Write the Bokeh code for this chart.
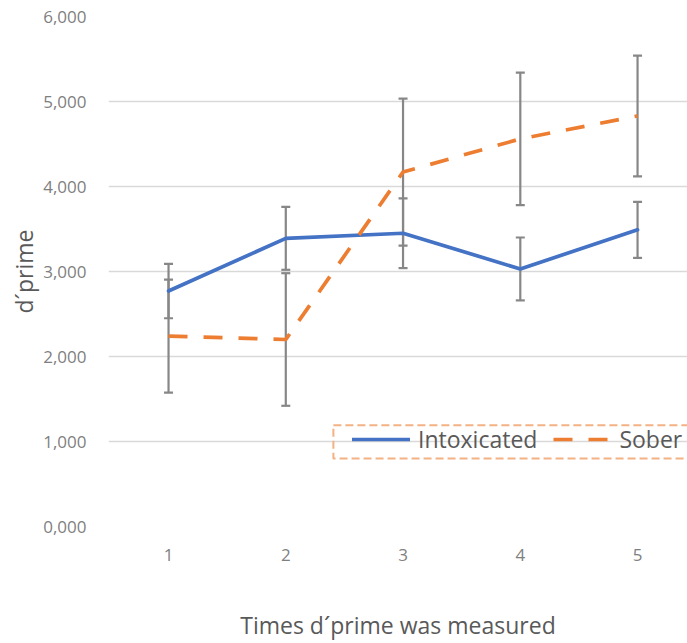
from bokeh.plotting import figure
from bokeh.models import (ColumnDataSource, Whisker, TeeHead, Legend, LegendItem,
                          FixedTicker, CustomJSTickFormatter, Range1d, BoxAnnotation)
from bokeh.embed import file_html
from bokeh.resources import INLINE

# d' measurements per session (mean and error half-width)
times = [1, 2, 3, 4, 5]
intoxicated = [2.77, 3.39, 3.45, 3.03, 3.49]
intoxicated_err = [0.32, 0.37, 0.41, 0.37, 0.33]
sober = [2.24, 2.20, 4.17, 4.56, 4.83]
sober_err = [0.665, 0.78, 0.865, 0.78, 0.71]
y_ticks = [0, 1, 2, 3, 4, 5, 6]

FONT = "Open Sans"
BLUE = "#4472C4"
ORANGE = "#ED7D31"
ERR = "#878787"

src_i = ColumnDataSource(dict(
    x=times, y=intoxicated,
    lower=[m - e for m, e in zip(intoxicated, intoxicated_err)],
    upper=[m + e for m, e in zip(intoxicated, intoxicated_err)],
))
src_s = ColumnDataSource(dict(
    x=times, y=sober,
    lower=[m - e for m, e in zip(sober, sober_err)],
    upper=[m + e for m, e in zip(sober, sober_err)],
))

p = figure(width=687, height=643, output_backend="svg", toolbar_location=None,
           x_range=Range1d(0.488, 5.426), y_range=Range1d(0, 6),
           min_border_left=108, min_border_right=0, min_border_top=16,
           min_border_bottom=117)
p.outline_line_color = None
p.background_fill_color = "white"
p.border_fill_color = "white"

p.xgrid.grid_line_color = None
p.ygrid.grid_line_color = "#d9d9d9"
p.ygrid.grid_line_width = 1.5
p.ygrid.ticker = FixedTicker(ticks=y_ticks)

for ax in (p.xaxis[0], p.yaxis[0]):
    ax.axis_line_color = None
    ax.major_tick_line_color = None
    ax.minor_tick_line_color = None
    ax.major_label_text_font = FONT
    ax.major_label_text_font_size = "17px"
    ax.major_label_text_color = "#7f7f7f"
    ax.axis_label_text_font = FONT
    ax.axis_label_text_font_style = "normal"
    ax.axis_label_text_color = "#595959"
    ax.axis_label_text_font_size = "23px"

p.xaxis.ticker = FixedTicker(ticks=times)
p.xaxis.major_label_standoff = 16
p.xaxis.axis_label = "Times d\u00b4prime was measured"
p.xaxis.axis_label_standoff = 45

p.yaxis.ticker = FixedTicker(ticks=y_ticks)
p.yaxis.formatter = CustomJSTickFormatter(code="return tick.toFixed(3).replace('.', ',');")
p.yaxis.major_label_standoff = 16
p.yaxis.axis_label = "d\u00b4prime"
p.yaxis.axis_label_standoff = 0

# error bars sit beneath the series lines
for src in (src_i, src_s):
    w = Whisker(source=src, base="x", lower="lower", upper="upper",
                line_color=ERR, line_width=2.2, level="underlay",
                upper_head=TeeHead(size=9, line_color=ERR, line_width=2.2),
                lower_head=TeeHead(size=9, line_color=ERR, line_width=2.2))
    p.add_layout(w)

r_i = p.line("x", "y", source=src_i, line_color=BLUE, line_width=3.7,
             line_join="round", line_cap="round")
r_s = p.line("x", "y", source=src_s, line_color=ORANGE, line_width=3.7,
             line_dash="19 16", line_join="round")

# dashed frame around the legend
legend_frame = BoxAnnotation(left=2.406, right=5.6, bottom=0.80, top=1.19,
                             fill_alpha=0, line_color="#F4B183", line_alpha=1,
                             line_width=2, line_dash="8 4", level="overlay")
p.add_layout(legend_frame)

legend = Legend(items=[LegendItem(label="Intoxicated", renderers=[r_i]),
                       LegendItem(label="Sober", renderers=[r_s])],
                orientation="horizontal", location=(244, 71),
                glyph_width=58, glyph_height=28, label_standoff=8, spacing=16,
                padding=0, margin=0, label_height=28,
                label_text_font=FONT, label_text_font_size="23px",
                label_text_color="#595959",
                border_line_color=None, background_fill_alpha=0)
p.add_layout(legend, "center")

open("out.html", "w").write(file_html(p, INLINE))
